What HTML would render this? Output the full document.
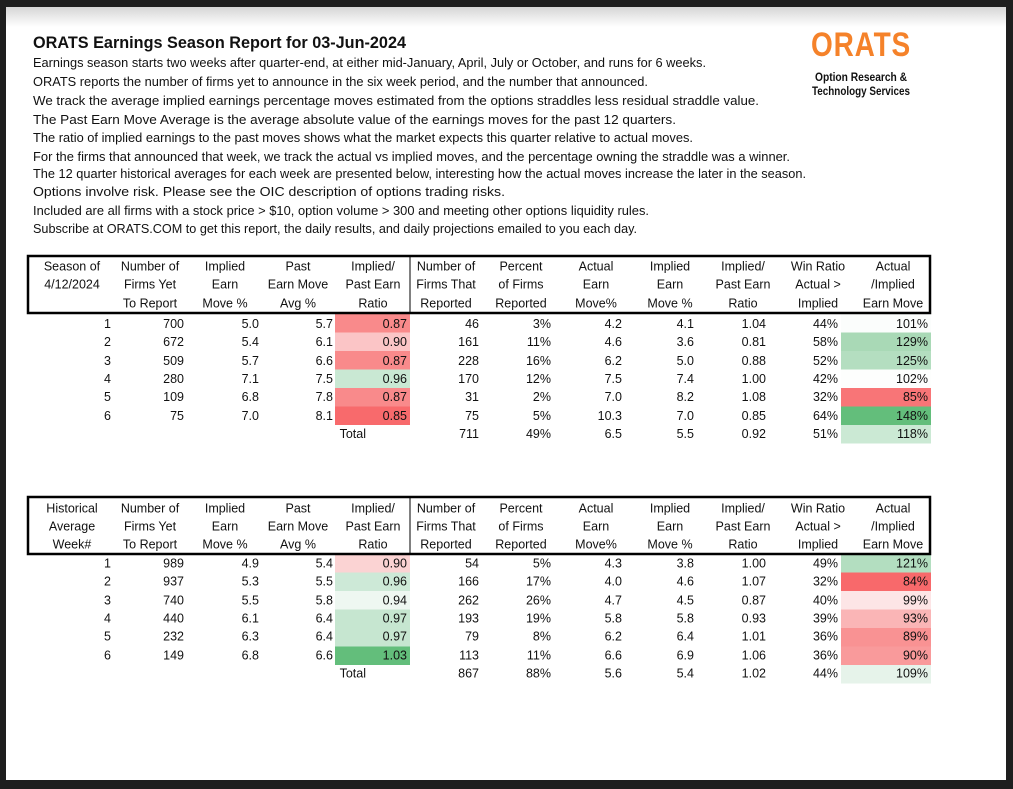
<!DOCTYPE html>
<html><head><meta charset="utf-8"><style>
html,body{margin:0;padding:0;background:#1e1e1e;}
svg{display:block;}
text{font-family:"Liberation Sans",sans-serif;fill:#111;}
.b{font-size:13px;}
.t{font-size:12.5px;}
.h{font-size:12.5px;text-anchor:middle;}
.r{font-size:12.5px;text-anchor:end;}
</style></head><body>
<svg width="1013" height="789" viewBox="0 0 1013 789" xmlns="http://www.w3.org/2000/svg">
<defs><linearGradient id="g" x1="0" y1="0" x2="0" y2="1"><stop offset="0" stop-color="#d6d6d6"/><stop offset="1" stop-color="#ffffff"/></linearGradient></defs>
<rect x="0" y="0" width="1013" height="789" fill="#1e1e1e"/>
<rect x="6" y="7" width="1000" height="773" fill="#fff"/>
<rect x="6" y="7" width="1000" height="20" fill="url(#g)"/>

<text x="33" y="48" style="font-size:17px;font-weight:bold" textLength="373" lengthAdjust="spacingAndGlyphs">ORATS Earnings Season Report for 03-Jun-2024</text>
<g class="b">
<text x="33" y="67" textLength="673" lengthAdjust="spacingAndGlyphs">Earnings season starts two weeks after quarter-end, at either mid-January, April, July or October, and runs for 6 weeks.</text>
<text x="33" y="86" textLength="615" lengthAdjust="spacingAndGlyphs">ORATS reports the number of firms yet to announce in the six week period, and the number that announced.</text>
<text x="33" y="105" textLength="726" lengthAdjust="spacingAndGlyphs">We track the average implied earnings percentage moves estimated from the options straddles less residual straddle value.</text>
<text x="33" y="124" textLength="643" lengthAdjust="spacingAndGlyphs">The Past Earn Move Average is the average absolute value of the earnings moves for the past 12 quarters.</text>
<text x="33" y="142" textLength="660" lengthAdjust="spacingAndGlyphs">The ratio of implied earnings to the past moves shows what the market expects this quarter relative to actual moves.</text>
<text x="33" y="161" textLength="757" lengthAdjust="spacingAndGlyphs">For the firms that announced that week, we track the actual vs implied moves, and the percentage owning the straddle was a winner.</text>
<text x="33" y="178" textLength="773" lengthAdjust="spacingAndGlyphs">The 12 quarter historical averages for each week are presented below, interesting how the actual moves increase the later in the season.</text>
<text x="33" y="196" textLength="472" lengthAdjust="spacingAndGlyphs">Options involve risk. Please see the OIC description of options trading risks.</text>
<text x="33" y="215" textLength="616" lengthAdjust="spacingAndGlyphs">Included are all firms with a stock price &gt; $10, option volume &gt; 300 and meeting other options liquidity rules.</text>
<text x="33" y="233" textLength="604" lengthAdjust="spacingAndGlyphs">Subscribe at ORATS.COM to get this report, the daily results, and daily projections emailed to you each day.</text>
</g>

<!-- logo -->
<text x="861" y="56" text-anchor="middle" style="font-size:34px;font-weight:bold;fill:#f5822a;letter-spacing:1px" textLength="100" lengthAdjust="spacingAndGlyphs">ORATS</text>
<text x="861" y="81" text-anchor="middle" style="font-size:12px;font-weight:bold" textLength="92" lengthAdjust="spacingAndGlyphs">Option Research &amp;</text>
<text x="861" y="95" text-anchor="middle" style="font-size:12px;font-weight:bold" textLength="98" lengthAdjust="spacingAndGlyphs">Technology Services</text>

<!-- TABLE 1 fills -->
<rect x="335" y="314" width="75" height="18.5" fill="#f98a8b"/>
<rect x="335" y="332.5" width="75" height="18.5" fill="#fbc5c6"/>
<rect x="335" y="351" width="75" height="18.5" fill="#f98a8b"/>
<rect x="335" y="369.5" width="75" height="18.5" fill="#c9e8d3"/>
<rect x="335" y="388" width="75" height="18.5" fill="#f98a8b"/>
<rect x="335" y="406.5" width="75" height="18.5" fill="#f86a6c"/>
<rect x="841" y="314" width="90" height="18.5" fill="#fbfdfc"/>
<rect x="841" y="332.5" width="90" height="18.5" fill="#a9d9b6"/>
<rect x="841" y="351" width="90" height="18.5" fill="#b4dec0"/>
<rect x="841" y="369.5" width="90" height="18.5" fill="#fdfefd"/>
<rect x="841" y="388" width="90" height="18.5" fill="#f87577"/>
<rect x="841" y="406.5" width="90" height="18.5" fill="#63be7b"/>
<rect x="841" y="425" width="90" height="18.5" fill="#cbe9d4"/>
<rect x="28" y="256" width="902" height="57" fill="none" stroke="#000" stroke-width="2.5"/>
<line x1="410" y1="256" x2="410" y2="313" stroke="#000" stroke-width="1"/>

<g>
<text class="h" x="72" y="270.5">Season of</text><text class="h" x="72" y="288.5">4/12/2024</text>
<text class="h" x="150" y="270.5">Number of</text><text class="h" x="150" y="288.5">Firms Yet</text><text class="h" x="150" y="307.5">To Report</text>
<text class="h" x="225" y="270.5">Implied</text><text class="h" x="225" y="288.5">Earn</text><text class="h" x="225" y="307.5">Move %</text>
<text class="h" x="298" y="270.5">Past</text><text class="h" x="298" y="288.5">Earn Move</text><text class="h" x="298" y="307.5">Avg %</text>
<text class="h" x="373" y="270.5">Implied/</text><text class="h" x="373" y="288.5">Past Earn</text><text class="h" x="373" y="307.5">Ratio</text>
<text class="h" x="446" y="270.5">Number of</text><text class="h" x="446" y="288.5">Firms That</text><text class="h" x="446" y="307.5">Reported</text>
<text class="h" x="521" y="270.5">Percent</text><text class="h" x="521" y="288.5">of Firms</text><text class="h" x="521" y="307.5">Reported</text>
<text class="h" x="596" y="270.5">Actual</text><text class="h" x="596" y="288.5">Earn</text><text class="h" x="596" y="307.5">Move%</text>
<text class="h" x="670" y="270.5">Implied</text><text class="h" x="670" y="288.5">Earn</text><text class="h" x="670" y="307.5">Move %</text>
<text class="h" x="743" y="270.5">Implied/</text><text class="h" x="743" y="288.5">Past Earn</text><text class="h" x="743" y="307.5">Ratio</text>
<text class="h" x="818" y="270.5">Win Ratio</text><text class="h" x="818" y="288.5">Actual &gt;</text><text class="h" x="818" y="307.5">Implied</text>
<text class="h" x="893" y="270.5">Actual</text><text class="h" x="893" y="288.5">/Implied</text><text class="h" x="893" y="307.5">Earn Move</text>
</g>

<g class="r">
<text x="111" y="328">1</text><text x="184" y="328">700</text><text x="259" y="328">5.0</text><text x="333" y="328">5.7</text><text x="407" y="328">0.87</text><text x="479" y="328">46</text><text x="551" y="328">3%</text><text x="622" y="328">4.2</text><text x="694" y="328">4.1</text><text x="766" y="328">1.04</text><text x="838" y="328">44%</text><text x="928" y="328">101%</text>
<text x="111" y="346">2</text><text x="184" y="346">672</text><text x="259" y="346">5.4</text><text x="333" y="346">6.1</text><text x="407" y="346">0.90</text><text x="479" y="346">161</text><text x="551" y="346">11%</text><text x="622" y="346">4.6</text><text x="694" y="346">3.6</text><text x="766" y="346">0.81</text><text x="838" y="346">58%</text><text x="928" y="346">129%</text>
<text x="111" y="365">3</text><text x="184" y="365">509</text><text x="259" y="365">5.7</text><text x="333" y="365">6.6</text><text x="407" y="365">0.87</text><text x="479" y="365">228</text><text x="551" y="365">16%</text><text x="622" y="365">6.2</text><text x="694" y="365">5.0</text><text x="766" y="365">0.88</text><text x="838" y="365">52%</text><text x="928" y="365">125%</text>
<text x="111" y="383">4</text><text x="184" y="383">280</text><text x="259" y="383">7.1</text><text x="333" y="383">7.5</text><text x="407" y="383">0.96</text><text x="479" y="383">170</text><text x="551" y="383">12%</text><text x="622" y="383">7.5</text><text x="694" y="383">7.4</text><text x="766" y="383">1.00</text><text x="838" y="383">42%</text><text x="928" y="383">102%</text>
<text x="111" y="401">5</text><text x="184" y="401">109</text><text x="259" y="401">6.8</text><text x="333" y="401">7.8</text><text x="407" y="401">0.87</text><text x="479" y="401">31</text><text x="551" y="401">2%</text><text x="622" y="401">7.0</text><text x="694" y="401">8.2</text><text x="766" y="401">1.08</text><text x="838" y="401">32%</text><text x="928" y="401">85%</text>
<text x="111" y="420">6</text><text x="184" y="420">75</text><text x="259" y="420">7.0</text><text x="333" y="420">8.1</text><text x="407" y="420">0.85</text><text x="479" y="420">75</text><text x="551" y="420">5%</text><text x="622" y="420">10.3</text><text x="694" y="420">7.0</text><text x="766" y="420">0.85</text><text x="838" y="420">64%</text><text x="928" y="420">148%</text>
<text x="366" y="438">Total</text><text x="479" y="438">711</text><text x="551" y="438">49%</text><text x="622" y="438">6.5</text><text x="694" y="438">5.5</text><text x="766" y="438">0.92</text><text x="838" y="438">51%</text><text x="928" y="438">118%</text>
</g>

<!-- TABLE 2 fills -->
<rect x="335" y="554" width="75" height="18.5" fill="#fbd3d3"/>
<rect x="335" y="572.5" width="75" height="18.5" fill="#cde9d7"/>
<rect x="335" y="591" width="75" height="18.5" fill="#eef7f1"/>
<rect x="335" y="609.5" width="75" height="18.5" fill="#c6e6d0"/>
<rect x="335" y="628" width="75" height="18.5" fill="#c6e6d0"/>
<rect x="335" y="646.5" width="75" height="18.5" fill="#63be7b"/>
<rect x="841" y="554" width="90" height="18.5" fill="#b3dec0"/>
<rect x="841" y="572.5" width="90" height="18.5" fill="#f8696b"/>
<rect x="841" y="591" width="90" height="18.5" fill="#fde5e6"/>
<rect x="841" y="609.5" width="90" height="18.5" fill="#fab5b6"/>
<rect x="841" y="628" width="90" height="18.5" fill="#f99293"/>
<rect x="841" y="646.5" width="90" height="18.5" fill="#f99a9b"/>
<rect x="841" y="665" width="90" height="18.5" fill="#e6f3ea"/>
<rect x="28" y="497" width="902" height="57" fill="none" stroke="#000" stroke-width="2.5"/>
<line x1="410" y1="497" x2="410" y2="554" stroke="#000" stroke-width="1"/>

<g>
<text class="h" x="72" y="512.5">Historical</text><text class="h" x="72" y="530.5">Average</text><text class="h" x="72" y="548.5">Week#</text>
<text class="h" x="150" y="512.5">Number of</text><text class="h" x="150" y="530.5">Firms Yet</text><text class="h" x="150" y="548.5">To Report</text>
<text class="h" x="225" y="512.5">Implied</text><text class="h" x="225" y="530.5">Earn</text><text class="h" x="225" y="548.5">Move %</text>
<text class="h" x="298" y="512.5">Past</text><text class="h" x="298" y="530.5">Earn Move</text><text class="h" x="298" y="548.5">Avg %</text>
<text class="h" x="373" y="512.5">Implied/</text><text class="h" x="373" y="530.5">Past Earn</text><text class="h" x="373" y="548.5">Ratio</text>
<text class="h" x="446" y="512.5">Number of</text><text class="h" x="446" y="530.5">Firms That</text><text class="h" x="446" y="548.5">Reported</text>
<text class="h" x="521" y="512.5">Percent</text><text class="h" x="521" y="530.5">of Firms</text><text class="h" x="521" y="548.5">Reported</text>
<text class="h" x="596" y="512.5">Actual</text><text class="h" x="596" y="530.5">Earn</text><text class="h" x="596" y="548.5">Move%</text>
<text class="h" x="670" y="512.5">Implied</text><text class="h" x="670" y="530.5">Earn</text><text class="h" x="670" y="548.5">Move %</text>
<text class="h" x="743" y="512.5">Implied/</text><text class="h" x="743" y="530.5">Past Earn</text><text class="h" x="743" y="548.5">Ratio</text>
<text class="h" x="818" y="512.5">Win Ratio</text><text class="h" x="818" y="530.5">Actual &gt;</text><text class="h" x="818" y="548.5">Implied</text>
<text class="h" x="893" y="512.5">Actual</text><text class="h" x="893" y="530.5">/Implied</text><text class="h" x="893" y="548.5">Earn Move</text>
</g>

<g class="r">
<text x="111" y="567.5">1</text><text x="184" y="567.5">989</text><text x="259" y="567.5">4.9</text><text x="333" y="567.5">5.4</text><text x="407" y="567.5">0.90</text><text x="479" y="567.5">54</text><text x="551" y="567.5">5%</text><text x="622" y="567.5">4.3</text><text x="694" y="567.5">3.8</text><text x="766" y="567.5">1.00</text><text x="838" y="567.5">49%</text><text x="928" y="567.5">121%</text>
<text x="111" y="585.5">2</text><text x="184" y="585.5">937</text><text x="259" y="585.5">5.3</text><text x="333" y="585.5">5.5</text><text x="407" y="585.5">0.96</text><text x="479" y="585.5">166</text><text x="551" y="585.5">17%</text><text x="622" y="585.5">4.0</text><text x="694" y="585.5">4.6</text><text x="766" y="585.5">1.07</text><text x="838" y="585.5">32%</text><text x="928" y="585.5">84%</text>
<text x="111" y="604.5">3</text><text x="184" y="604.5">740</text><text x="259" y="604.5">5.5</text><text x="333" y="604.5">5.8</text><text x="407" y="604.5">0.94</text><text x="479" y="604.5">262</text><text x="551" y="604.5">26%</text><text x="622" y="604.5">4.7</text><text x="694" y="604.5">4.5</text><text x="766" y="604.5">0.87</text><text x="838" y="604.5">40%</text><text x="928" y="604.5">99%</text>
<text x="111" y="622.5">4</text><text x="184" y="622.5">440</text><text x="259" y="622.5">6.1</text><text x="333" y="622.5">6.4</text><text x="407" y="622.5">0.97</text><text x="479" y="622.5">193</text><text x="551" y="622.5">19%</text><text x="622" y="622.5">5.8</text><text x="694" y="622.5">5.8</text><text x="766" y="622.5">0.93</text><text x="838" y="622.5">39%</text><text x="928" y="622.5">93%</text>
<text x="111" y="640.5">5</text><text x="184" y="640.5">232</text><text x="259" y="640.5">6.3</text><text x="333" y="640.5">6.4</text><text x="407" y="640.5">0.97</text><text x="479" y="640.5">79</text><text x="551" y="640.5">8%</text><text x="622" y="640.5">6.2</text><text x="694" y="640.5">6.4</text><text x="766" y="640.5">1.01</text><text x="838" y="640.5">36%</text><text x="928" y="640.5">89%</text>
<text x="111" y="659.5">6</text><text x="184" y="659.5">149</text><text x="259" y="659.5">6.8</text><text x="333" y="659.5">6.6</text><text x="407" y="659.5">1.03</text><text x="479" y="659.5">113</text><text x="551" y="659.5">11%</text><text x="622" y="659.5">6.6</text><text x="694" y="659.5">6.9</text><text x="766" y="659.5">1.06</text><text x="838" y="659.5">36%</text><text x="928" y="659.5">90%</text>
<text x="366" y="677.5">Total</text><text x="479" y="677.5">867</text><text x="551" y="677.5">88%</text><text x="622" y="677.5">5.6</text><text x="694" y="677.5">5.4</text><text x="766" y="677.5">1.02</text><text x="838" y="677.5">44%</text><text x="928" y="677.5">109%</text>
</g>
</svg>
</body></html>
